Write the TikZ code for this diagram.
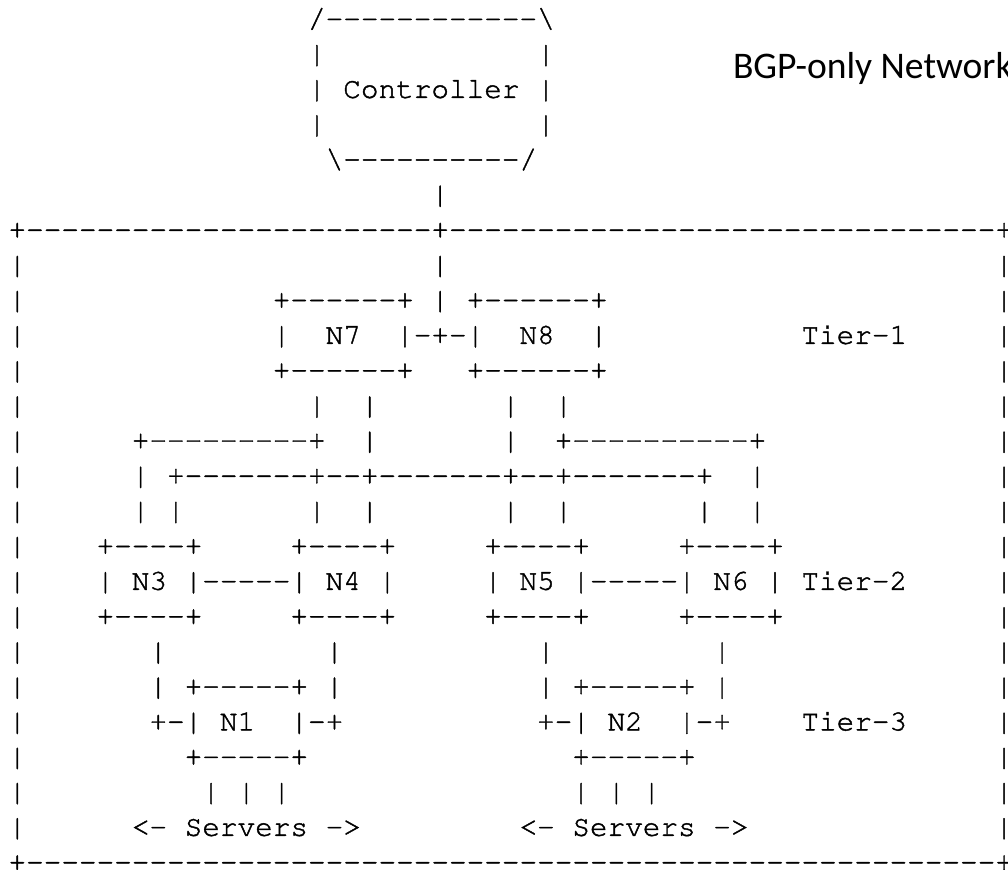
\documentclass[tikz,border=0pt]{standalone}
\usepackage[T1,TU]{fontenc}
\usepackage{fontspec}
\newfontfamily\titlefont{Carlito}
% Courier (URW Nimbus Mono) for the character drawing, glyphs filled and lightly stroked
\newcommand\asciifont{\fontencoding{T1}\fontfamily{pcr}\fontseries{m}\fontshape{n}\fontsize{29.48pt}{35pt}\selectfont
  \special{pdf:literal direct 2 Tr 0.4 w}}
% a run of n hyphens that never turns into a dash ligature
\newcount\repcnt
\newcommand\D[1]{\repcnt=#1\relax\loop\ifnum\repcnt>0\relax-\kern0pt\advance\repcnt by -1\repeat}
\tikzset{
  ascii/.style={anchor=base west, inner sep=0pt, outer sep=0pt, font=\asciifont, text=black},
  titletext/.style={anchor=base west, inner sep=0pt, outer sep=0pt, font=\titlefont\fontsize{37.6bp}{40bp}\selectfont, text=black}
}
% text placed on the character grid: column, row, text
\newcommand\seg[3]{\node[ascii] (c#1r#2) at ({8.5+17.62*#1},{27.6+35.14*#2}) {#3};}
\begin{document}
\begin{tikzpicture}[x=1bp,y=-1bp]
\useasboundingbox (0,0) rectangle (1008,870);
\fill[white] (0,0) rectangle (1008,870);
\clip (0,0) rectangle (1008,870);

% controller
\seg{17}{0}{/\D{12}\textbackslash}
\seg{17}{1}{|}\seg{30}{1}{|}
\seg{17}{2}{|}\seg{19}{2}{Controller}\seg{30}{2}{|}
\seg{17}{3}{|}\seg{30}{3}{|}
\seg{18}{4}{\textbackslash\D{10}/}
\seg{24}{5}{|}
\node[titletext] (title) at (733,78) {BGP-only Network};

% frame
\seg{0}{6}{+\D{23}+\D{31}+}
\foreach \r in {7,...,23} {\seg{0}{\r}{|}\seg{56}{\r}{|}}
\seg{0}{24}{+\D{55}+}

% tier 1
\seg{24}{7}{|}
\seg{15}{8}{+\D{6}+}\seg{24}{8}{|}\seg{26}{8}{+\D{6}+}
\seg{15}{9}{|}\seg{18}{9}{N7}\seg{22}{9}{|-+-|}\seg{29}{9}{N8}\seg{33}{9}{|}\seg{45}{9}{Tier-1}
\seg{15}{10}{+\D{6}+}\seg{26}{10}{+\D{6}+}

% tier 1 to tier 2 links
\seg{17}{11}{|}\seg{20}{11}{|}\seg{28}{11}{|}\seg{31}{11}{|}
\seg{7}{12}{+\D{9}+}\seg{20}{12}{|}\seg{28}{12}{|}\seg{31}{12}{+\D{10}+}
\seg{7}{13}{|}\seg{9}{13}{+\D{7}+\D{2}+\D{7}+\D{2}+\D{7}+}\seg{42}{13}{|}
\foreach \c in {7,9,17,20,28,31,39,42} {\seg{\c}{14}{|}}

% tier 2
\foreach \c in {5,16,27,38} {\seg{\c}{15}{+\D{4}+}\seg{\c}{17}{+\D{4}+}}
\seg{5}{16}{|}\seg{7}{16}{N3}\seg{10}{16}{|\D{5}|}\seg{18}{16}{N4}\seg{21}{16}{|}
\seg{27}{16}{|}\seg{29}{16}{N5}\seg{32}{16}{|\D{5}|}\seg{40}{16}{N6}\seg{43}{16}{|}
\seg{45}{16}{Tier-2}

% tier 2 to tier 3 links
\foreach \c in {8,18,30,40} {\seg{\c}{18}{|}\seg{\c}{19}{|}}
\seg{10}{19}{+\D{5}+}\seg{32}{19}{+\D{5}+}

% tier 3
\seg{8}{20}{+-|}\seg{12}{20}{N1}\seg{16}{20}{|-+}
\seg{30}{20}{+-|}\seg{34}{20}{N2}\seg{38}{20}{|-+}
\seg{45}{20}{Tier-3}
\seg{10}{21}{+\D{5}+}\seg{32}{21}{+\D{5}+}

% servers
\foreach \c in {11,13,15,32,34,36} {\seg{\c}{22}{|}}
\seg{7}{23}{<-}\seg{10}{23}{Servers}\seg{18}{23}{->}
\seg{29}{23}{<-}\seg{32}{23}{Servers}\seg{40}{23}{->}
\end{tikzpicture}
\end{document}
